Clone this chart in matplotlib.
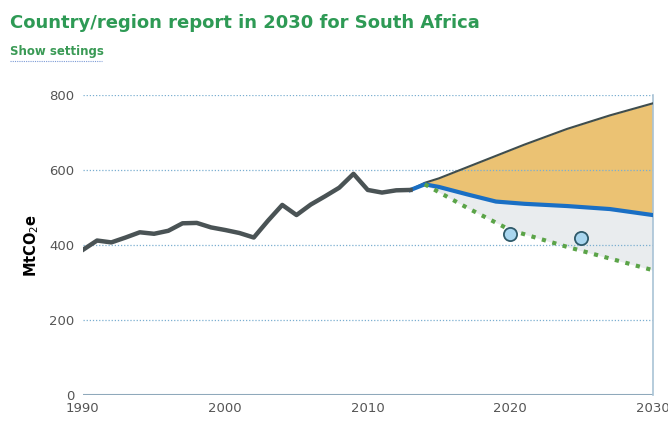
import matplotlib
matplotlib.use("Agg")
import matplotlib.pyplot as plt
import numpy as np

# Historical emissions
hist_years = list(range(1990, 2014))
hist_vals = [387, 412, 407, 420, 434, 430, 438, 458, 459, 447, 440, 432,
             420, 465, 507, 480, 508, 530, 553, 590, 547, 540, 546, 547]

# Projections
proj_years = [2013, 2014, 2015, 2017, 2019, 2021, 2024, 2027, 2030]
upper_vals = [547, 566, 578, 608, 638, 668, 710, 746, 778]
blue_vals = [547, 562, 555, 535, 516, 510, 504, 496, 480]
green_years = [2014, 2017, 2020, 2024, 2030]
green_vals = [562, 499, 440, 395, 333]
pledge_years = [2020, 2025]
pledge_vals = [429, 419]

yticks = [0, 200, 400, 600, 800]
xticks = [1990, 2000, 2010, 2020, 2030]

fig = plt.figure(figsize=(6.68, 4.21), dpi=100)
ax = fig.add_axes([0.124, 0.062, 0.853, 0.712])

# fills
gy = np.interp(proj_years[1:], green_years, green_vals)
ax.fill_between(proj_years, upper_vals, blue_vals, color="#ebc273", lw=0, zorder=1)
ax.fill_between(proj_years[1:], blue_vals[1:], gy, color="#e9ecee", lw=0, zorder=1)

for v in yticks[1:]:
    ax.axhline(v, color="#7aaed0", lw=0.9, ls=(0, (1, 1.5)), zorder=2)
ax.axhline(0, color="#8fa9bb", lw=1.5, zorder=2)

ax.plot(proj_years, upper_vals, color="#3f4d4d", lw=1.5, zorder=3)
ax.plot(proj_years, blue_vals, color="#1a6fc4", lw=3, zorder=4)
ax.plot(green_years, green_vals, color="#5ba448", lw=3, ls=(0, (1, 1.6)), zorder=4)
ax.plot(hist_years, hist_vals, color="#4a5355", lw=3.2, zorder=5)
ax.scatter(pledge_years, pledge_vals, s=90, color="#a9d6ef", edgecolor="#2f5a6a", lw=1.3, zorder=6)

ax.set_xlim(1990, 2030)
ax.set_ylim(0, 800)
ax.set_yticks(yticks)
ax.set_xticks(xticks)
ax.tick_params(axis="y", length=0, pad=6, labelsize=9.5, labelcolor="#555555")
ax.tick_params(axis="x", length=0, pad=5, labelsize=9.5, labelcolor="#555555")
for s in ["top", "left", "bottom"]:
    ax.spines[s].set_visible(False)
ax.spines["right"].set_color("#a9c3d6")
ax.spines["right"].set_linewidth(1.2)

ax.set_ylabel("MtCO$_2$e", fontsize=10.5, fontweight="bold", labelpad=6)

fig.text(0.015, 0.945, "Country/region report in 2030 for South Africa", fontsize=13,
         fontweight="bold", color="#2e9a55", ha="left", va="center")
fig.text(0.015, 0.877, "Show settings", fontsize=8.5, fontweight="bold",
         color="#3a9a55", ha="left", va="center")
fig.add_artist(plt.Line2D([0.015, 0.152], [0.855, 0.855], color="#7d9bd6", lw=0.8,
                          ls=(0, (1, 1))))

fig.savefig("out.png", dpi=100)
